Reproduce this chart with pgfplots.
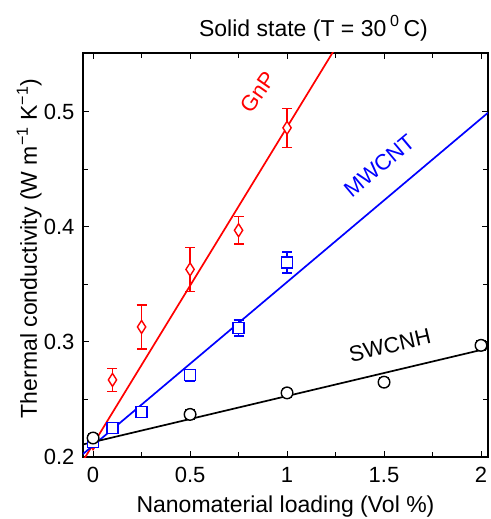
\documentclass[border=0pt]{standalone}
\usepackage{fontspec}
\setmainfont{Liberation Sans}
\usepackage{pgfplots}
\pgfplotsset{compat=1.18}

\pgfplotstableread{
x y e
0 0.212 0.003
0.1 0.267 0.010
0.25 0.313 0.019
0.5 0.363 0.019
0.75 0.397 0.012
1 0.486 0.017
}\gnp
\pgfplotstableread{
x y e
0 0.213 0.003
0.1 0.225 0.004
0.25 0.239 0.004
0.5 0.271 0.005
0.75 0.312 0.007
1 0.369 0.009
}\mwcnt
\pgfplotstableread{
x y e
0 0.2165 0.004
0.5 0.237 0.004
1 0.2557 0.004
1.5 0.265 0.004
2 0.297 0.004
}\swcnh

\begin{document}
\begin{tikzpicture}[font=\fontsize{22}{26}\selectfont]
\path[use as bounding box] (-83pt,-62pt) rectangle (407pt,457pt);
\begin{axis}[
  scale only axis, width=405pt, height=404pt,
  xmin=-0.052, xmax=2.036, ymin=0.2, ymax=0.551,
  xtick={0,0.5,1,1.5,2}, ytick={0.2,0.3,0.4,0.5},
  minor xtick={0.25,0.75,1.25,1.75}, minor ytick={0.25,0.35,0.45},
  tick align=inside, tick pos=both,
  major tick length=6pt, minor tick length=5pt,
  tick style={black, line width=1pt},
  axis line style={line width=1.6pt},
  /pgf/number format/assume math mode=true,
  xticklabel style={font=\fontsize{22}{26}\selectfont, anchor=base, yshift=-25pt},
  yticklabel style={font=\fontsize{22}{26}\selectfont, xshift=-5pt, /pgf/number format/fixed, /pgf/number format/precision=1},
  xlabel={Nanomaterial loading (Vol \%)},
  ylabel={Thermal conductivity (W m\textsuperscript{−1} K\textsuperscript{−1})},
  xlabel style={at={(axis description cs:0.5,-0.138)}, anchor=base},
  ylabel style={at={(axis description cs:-0.1136,0.516)}, anchor=base},
  label style={font=\fontsize{23}{27}\selectfont},
]
% fitted lines
\addplot[red, line width=1.7pt] coordinates {(-0.052,0.1967) (1.3,0.5693)};
\addplot[blue, line width=1.7pt] coordinates {(-0.052,0.2026) (2.036,0.4991)};
\addplot[black, line width=1.7pt] coordinates {(-0.052,0.2109) (2.036,0.2944)};
% data
\addplot[red, line width=1.4pt, only marks, mark=diamond*, mark size=6.5pt,
  mark options={fill=white, xscale=0.85},
  error bars/.cd, y dir=both, y explicit,
  error bar style={line width=1.4pt}, error mark options={mark size=5pt, line width=1.4pt, rotate=90}]
  table[x=x, y=y, y error=e] {\gnp};
\addplot[blue, line width=1.4pt, only marks, mark=square*, mark size=5.5pt,
  mark options={fill=white},
  error bars/.cd, y dir=both, y explicit,
  error bar style={line width=1.4pt}, error mark options={mark size=5pt, line width=1.4pt, rotate=90}]
  table[x=x, y=y, y error=e] {\mwcnt};
\addplot[black, line width=1.4pt, only marks, mark=*, mark size=5.8pt,
  mark options={fill=white},
  error bars/.cd, y dir=both, y explicit,
  error bar style={line width=1.4pt}, error mark options={mark size=5pt, line width=1.4pt, rotate=90}]
  table[x=x, y=y, y error=e] {\swcnh};
% labels
\node[red, rotate=55] at (axis cs:0.85,0.517) {GnP};
\node[blue, rotate=40] at (axis cs:1.475,0.453) {MWCNT};
\node[black, rotate=13] at (axis cs:1.53,0.297) {SWCNH};
\coordinate (ttl) at (rel axis cs:0.569,1);
\end{axis}
\node[anchor=base, yshift=16pt, font=\fontsize{23}{27}\selectfont] at (ttl)
  {Solid state (T = 30\,\raisebox{1pt}{\textsuperscript{0}}\,C)};
\end{tikzpicture}
\end{document}
